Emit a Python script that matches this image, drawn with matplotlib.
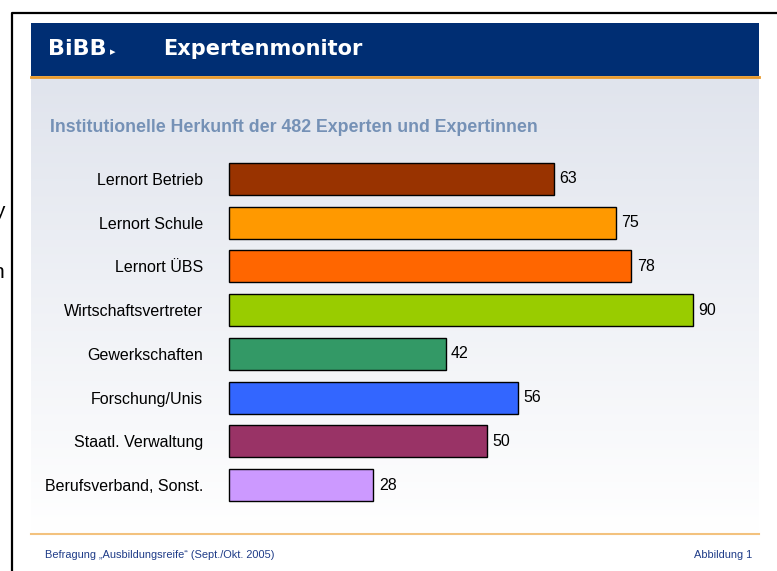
import numpy as np
import matplotlib
matplotlib.use("Agg")
import matplotlib.pyplot as plt
from matplotlib.patches import Rectangle

# data
categories = ["Lernort Betrieb", "Lernort Schule", "Lernort ÜBS", "Wirtschaftsvertreter",
              "Gewerkschaften", "Forschung/Unis", "Staatl. Verwaltung", "Berufsverband, Sonst."]
values = [63, 75, 78, 90, 42, 56, 50, 28]
bar_colors = ["#993300", "#FF9900", "#FF6600", "#99CC00",
              "#339966", "#3366FF", "#993366", "#CC99FF"]

title = "Institutionelle Herkunft der 482 Experten und Expertinnen"
footer_left = "Befragung \u201eAusbildungsreife\u201c (Sept./Okt. 2005)"
footer_right = "Abbildung 1"

W, H = 777, 571
fig = plt.figure(figsize=(W / 100, H / 100), dpi=100)
fig.patch.set_facecolor("white")

# background layer in pixel coordinates
bg = fig.add_axes([0, 0, 1, 1])
bg.set_xlim(0, W)
bg.set_ylim(H, 0)
bg.axis("off")

# gradient panel
grad = np.linspace(0, 1, 256).reshape(-1, 1)
top = np.array([224, 228, 237]) / 255
bot = np.array([255, 255, 255]) / 255
img = top + (bot - top) * grad[..., None]
img = img.reshape(256, 1, 3)
bg.imshow(img, extent=(31, 759, 533, 78), aspect="auto", zorder=0)

# banner
bg.add_patch(Rectangle((31, 23), 728, 53, facecolor="#002E73", edgecolor="none", zorder=1))
bg.plot([31, 759], [77, 77], color="#E99A2C", lw=2, zorder=2)
bg.plot([31, 759], [533.5, 533.5], color="#F3C27E", lw=1.5, zorder=2)

# outer frame
bg.plot([11.5, 11.5, W + 5], [H + 5, 12.5, 12.5], color="black", lw=1.6, zorder=3)

# clipped letters left of the frame (cut off in the original too)
bg.text(5, 217, "y", fontsize=15, ha="right", va="baseline", family="Liberation Sans")
bg.text(4.5, 278, "n", fontsize=15, ha="right", va="baseline", family="Liberation Sans")

bg.text(48, 55, "BiBB", color="white", fontsize=16, fontweight="bold",
        family="DejaVu Sans", va="baseline")
bg.text(110, 55, "\u25b8", color="white", fontsize=8, fontweight="bold",
        family="DejaVu Sans", va="baseline")
bg.text(163, 55, "Expertenmonitor", color="white", fontsize=15, fontweight="bold",
        family="DejaVu Sans", va="baseline")

bg.text(50, 132, title, color="#7591B6", fontsize=12.8, fontweight="bold",
        family="Liberation Sans", va="baseline")
bg.text(45, 557.5, footer_left, color="#1F3C88", fontsize=7.9,
        family="Liberation Sans", va="baseline")
bg.text(752, 557.5, footer_right, color="#1F3C88", fontsize=7.9,
        family="Liberation Sans", va="baseline", ha="right")

# bar chart
ax = fig.add_axes([229 / W, 1 - 507 / H, 464 / W, 350 / H])
ax.set_facecolor("none")
y = np.arange(len(categories))
bars = ax.barh(y, values, height=0.73, color=bar_colors, edgecolor="black", linewidth=1)
for b in bars:
    b.set_clip_on(False)
ax.set_xlim(0, 90)
ax.set_ylim(len(categories) - 0.5, -0.5)
ax.set_yticks(y)
ax.set_yticklabels(categories, fontsize=11.5, family="Liberation Sans")
ax.tick_params(axis="y", length=0, pad=18.5)
ax.set_xticks([])
for s in ax.spines.values():
    s.set_visible(False)

for i, v in enumerate(values):
    ax.annotate(str(v), (v, i), xytext=(4, 0), textcoords="offset points",
                va="center", ha="left", fontsize=11.5, family="Liberation Sans",
                annotation_clip=False)

plt.savefig("out.png", dpi=100)
